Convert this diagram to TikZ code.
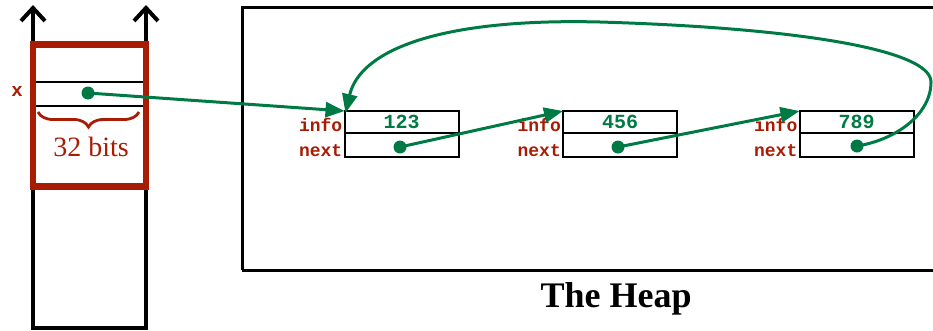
\documentclass[tikz,border=0pt]{standalone}
\usepackage{fontspec}
\setmainfont{Liberation Serif}
\setmonofont{Liberation Mono}
\usetikzlibrary{arrows.meta,decorations.pathreplacing}
\definecolor{myred}{RGB}{168,28,4}
\definecolor{mygreen}{RGB}{0,122,69}
\tikzset{
  cell/.style={draw=black,line width=2pt,minimum width=114pt,inner sep=0pt,outer sep=0pt,
    font=\fontsize{20}{22}\selectfont\ttfamily\bfseries,text=mygreen},
  fieldlbl/.style={anchor=east,inner sep=0pt,text=myred,font=\fontsize{18}{20}\selectfont\ttfamily\bfseries},
  ptrdot/.style={circle,fill=mygreen,minimum size=13pt,inner sep=0pt},
  ptr/.style={draw=mygreen,line width=3pt,-{Triangle[length=19pt,width=15pt]}},
  stackline/.style={line width=4pt,black},
}
\begin{document}
\begin{tikzpicture}[x=1pt,y=-1pt]
\useasboundingbox (0,0) rectangle (933,330);
% stack
\draw[stackline,-{Straight Barb[length=13pt,width=24pt]}] (33,328) -- (33,5);
\draw[stackline,-{Straight Barb[length=13pt,width=24pt]}] (146,328) -- (146,5);
\draw[stackline,line cap=rect] (33,328) -- (146,328);
% red frame
\draw[myred,line width=6.5pt] (33,44.5) rectangle (146,186.5);
\draw[black,line width=1.6pt] (36,82) -- (143,82);
\draw[black,line width=1.6pt] (36,106) -- (143,106);
\node[inner sep=0pt,text=myred,font=\fontsize{19}{20}\selectfont\ttfamily\bfseries] (xl) at (17,91) {x};
\node[ptrdot] (d0) at (88,93) {};
\draw[myred,line width=2.8pt,decorate,decoration={brace,mirror,amplitude=15pt}] (38,112) -- (139,112);
\node[inner sep=0pt,text=myred,font=\fontsize{28}{30}\selectfont,anchor=base] (bits) at (91,156) {32 bits};
% heap
\draw[black,line width=3pt] (242,270) -- (242,7) -- (945,7);
\draw[black,line width=3pt] (242,270) -- (945,270);
\node[anchor=base,inner sep=0pt,font=\fontsize{36}{40}\selectfont\bfseries] (heap) at (616,307) {The Heap};
% list nodes
\node[cell,minimum height=22pt] (i1) at (401.5,122) {123};
\node[cell,minimum height=24pt] (n1) at (401.5,145) {};
\node[cell,minimum height=22pt] (i2) at (620,122) {456};
\node[cell,minimum height=24pt] (n2) at (620,145) {};
\node[cell,minimum height=22pt] (i3) at (856.5,122) {789};
\node[cell,minimum height=24pt] (n3) at (856.5,145) {};
\node[fieldlbl] (li1) at ([xshift=-2pt,yshift=-3pt]i1.west) {info};
\node[fieldlbl] (ln1) at ([xshift=-2pt,yshift=-6pt]n1.west) {next};
\node[fieldlbl] (li2) at ([xshift=-2pt,yshift=-3pt]i2.west) {info};
\node[fieldlbl] (ln2) at ([xshift=-2pt,yshift=-6pt]n2.west) {next};
\node[fieldlbl] (li3) at ([xshift=-2pt,yshift=-3pt]i3.west) {info};
\node[fieldlbl] (ln3) at ([xshift=-2pt,yshift=-6pt]n3.west) {next};
\node[ptrdot] (d1) at (400,147) {};
\node[ptrdot] (d2) at (618,147) {};
\node[ptrdot] (d3) at (857,146) {};
% pointers
\draw[ptr] (d0.center) -- (i1.north west);
\draw[ptr] (d1.center) -- (i2.north west);
\draw[ptr] (d2.center) -- (i3.north west);
\draw[ptr] (d3.center) .. controls (895,140) and (931,115) .. (931,82)
  .. controls (931,50) and (800,28) .. (600,22)
  .. controls (440,18) and (360,50) .. ([xshift=1pt,yshift=-2pt]i1.north west);
\end{tikzpicture}
\end{document}
